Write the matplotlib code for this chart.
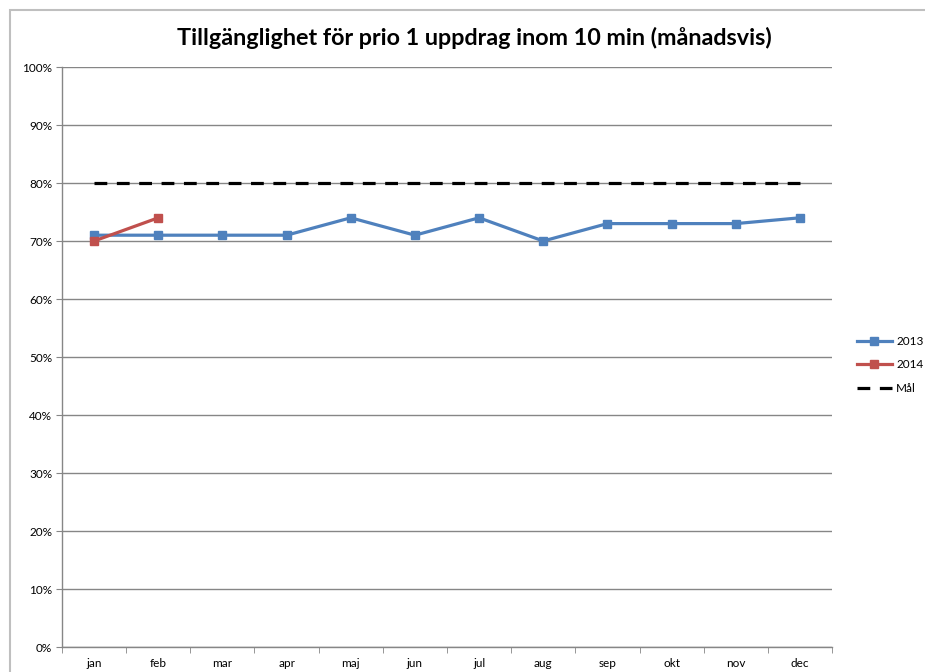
import matplotlib.pyplot as plt
from matplotlib.patches import Rectangle
from matplotlib.ticker import FixedLocator, PercentFormatter

plt.rcParams['font.family'] = ['Lato', 'DejaVu Sans']

# data
months = ['jan', 'feb', 'mar', 'apr', 'maj', 'jun', 'jul', 'aug', 'sep', 'okt', 'nov', 'dec']
values_2013 = [71, 71, 71, 71, 74, 71, 74, 70, 73, 73, 73, 74]
values_2014 = [70, 74]
goal = [80] * 12

blue = '#4F81BD'
red = '#C0504D'
grid_col = '#868686'

fig = plt.figure(figsize=(9.25, 6.72), dpi=100)
ax = fig.add_axes([62 / 925, 25 / 672, 770 / 925, 580 / 672])

x = list(range(len(months)))
ax.plot(x, values_2013, color=blue, lw=2.3, marker='s', ms=5.5, label='2013')
ax.plot(x[:len(values_2014)], values_2014, color=red, lw=2.3, marker='s', ms=5.5, label='2014')
ax.plot(x, goal, color='black', lw=2.3, dashes=(4, 3), label='Mål')

ax.set_xlim(-0.5, len(months) - 0.5)
ax.set_ylim(0, 100)
ax.set_yticks(range(0, 101, 10))
ax.yaxis.set_major_formatter(PercentFormatter(decimals=0))
ax.set_xticks(x)
ax.set_xticklabels(months)
ax.xaxis.set_minor_locator(FixedLocator([i - 0.5 for i in range(len(months) + 1)]))
ax.tick_params(axis='x', which='major', length=0, labelsize=8.5, pad=8)
ax.tick_params(axis='x', which='minor', length=4, color=grid_col, direction='out')
ax.tick_params(axis='y', length=4, color=grid_col, labelsize=8.5, pad=3)

ax.grid(axis='y', color=grid_col, lw=1)
ax.set_axisbelow(True)
for side in ['top', 'right']:
    ax.spines[side].set_visible(False)
for side in ['left', 'bottom']:
    ax.spines[side].set_color(grid_col)
    ax.spines[side].set_linewidth(1)

fig.text(474 / 925, 1 - 38 / 672, 'Tillgänglighet för prio 1 uppdrag inom 10 min (månadsvis)',
         ha='center', va='center', fontsize=16.8, fontweight='bold')

fig.legend(loc='center left', bbox_to_anchor=(846 / 925, 1 - 365 / 672), frameon=False,
           fontsize=8.5, handlelength=3.0, labelspacing=1.05, handletextpad=0.35)

# chart area border
fig.patches.append(Rectangle((10 / 925, -0.1), 1.0, 1 - 10 / 672 + 0.1, transform=fig.transFigure,
                             fill=False, edgecolor='#BFBFBF', lw=1.5))

fig.savefig('out.png', dpi=100)
